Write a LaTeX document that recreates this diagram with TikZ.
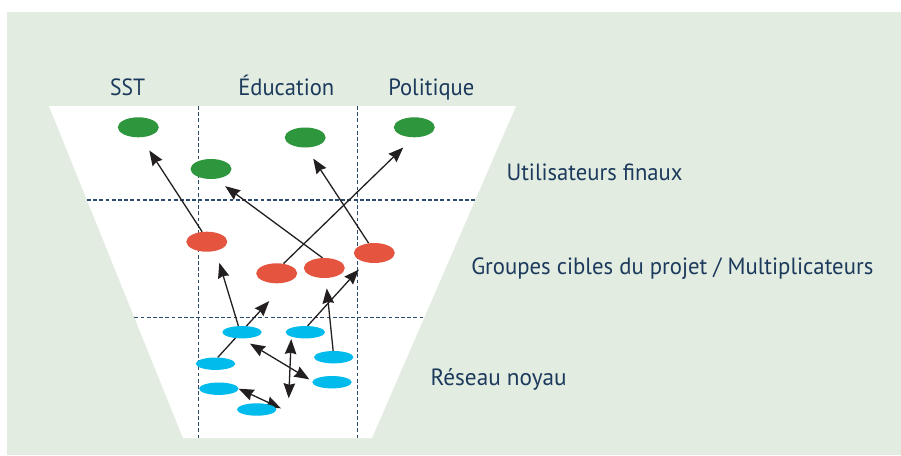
\documentclass[tikz,border=0pt]{standalone}
\usepackage{fontspec}
\setmainfont{PT Sans}
\usetikzlibrary{shapes.geometric,arrows.meta}
\pgfdeclarelayer{bg}
\pgfsetlayers{bg,main}
\definecolor{bgc}{RGB}{226,236,225}
\definecolor{gr}{RGB}{46,150,61}
\definecolor{rd}{RGB}{228,84,62}
\definecolor{bl}{RGB}{0,187,236}
\definecolor{txt}{RGB}{28,58,92}
\definecolor{dsh}{RGB}{45,75,108}
\definecolor{ink}{RGB}{35,31,32}
\newcommand\fitw[2]{\resizebox{#1pt}{\height}{#2}}
\begin{document}
\begin{tikzpicture}[
  bigell/.style={ellipse,minimum width=41pt,minimum height=20pt,inner sep=0pt,draw=none},
  ge/.style={bigell,fill=gr},
  re/.style={bigell,fill=rd},
  be/.style={ellipse,minimum width=39.4pt,minimum height=12.4pt,inner sep=0pt,draw=none,fill=bl},
  lbl/.style={anchor=base,inner sep=0pt,text=txt,font=\fontsize{23.5}{28}\selectfont},
  guide/.style={draw=dsh,line width=1.2pt,dash pattern=on 3.8pt off 2.4pt},
  arr/.style={draw=ink,line width=1.3pt,-{Stealth[length=15pt,width=11.5pt,inset=1.5pt]}},
  darr/.style={draw=ink,line width=1.3pt,{Stealth[length=15pt,width=11.5pt,inset=1.5pt]}-{Stealth[length=15pt,width=11.5pt,inset=1.5pt]}}
]
\begin{scope}[x=1pt,y=-1pt]
\useasboundingbox (0,0) rectangle (901,455);
\begin{pgfonlayer}{bg}
  \fill[white] (0,0) rectangle (901,455);
  \fill[bgc] (7,12) rectangle (901,455);
  \fill[white] (49,106) -- (516,106) -- (372,438) -- (183,438) -- cycle;
  \draw[guide] (198.3,106) -- (198.3,438);
  \draw[guide] (357.2,106) -- (357.2,438);
  \draw[guide] (86.9,200) -- (475.2,200);
  \draw[guide] (134.3,317.3) -- (424.4,317.3);
\end{pgfonlayer}

% labels
\node[lbl] (tSST) at (127.7,95.7) {\fitw{35}{SST}};
\node[lbl] (tEdu) at (286.3,95.7) {\fitw{96}{Éducation}};
\node[lbl] (tPol) at (431.3,95.7) {\fitw{86}{Politique}};
\node[lbl] (tUti) at (594.5,180) {\fitw{176}{Utilisateurs finaux}};
\node[lbl] (tGrp) at (672.3,274.7) {\fitw{402}{Groupes cibles du projet / Multiplicateurs}};
\node[lbl] (tRes) at (498.7,385) {\fitw{136}{Réseau noyau}};

% end users
\node[ge] (G1) at (138.3,127.3) {};
\node[ge] (G2) at (211,169) {};
\node[ge] (G3) at (305.2,137.5) {};
\node[ge] (G4) at (414.3,127.3) {};
% target groups
\node[re] (R1) at (206.8,241.7) {};
\node[re] (R2) at (276.7,273.3) {};
\node[re] (R3) at (324.3,268) {};
\node[re] (R4) at (374.3,253) {};
% core network
\node[be] (B1) at (242,332.2) {};
\node[be] (B2) at (305.3,332.2) {};
\node[be] (B3) at (333.7,357.2) {};
\node[be] (B4) at (215.5,363.7) {};
\node[be] (B5) at (218.8,388.7) {};
\node[be] (B6) at (332,382.2) {};
\node[be] (B7) at (256.7,409.5) {};
\coordinate (c10) at (288.7,398.3);

\begin{pgfonlayer}{bg}
  \draw[arr,shorten >=15.5pt] (R1.115) -- (G1.-76);
  \draw[arr,shorten >=12.1pt] (R3.100) -- (G2.-66.5);
  \draw[arr,shorten >=14.4pt] (R2.55) -- (G4.-94);
  \draw[arr,shorten >=13pt] (R4.120) -- (G3.-85);
  \draw[arr,shorten >=12.5pt] (B1.120) -- (R1.-46);
  \draw[arr,shorten >=25.4pt] (B4.70) -- (R2.-43);
  \draw[arr,shorten >=9.8pt] (B2.70) -- (R4.-134);
  \draw[arr,shorten >=10.3pt] (B3.95) -- (R3.-82);
  \draw[darr,shorten <=9.7pt,shorten >=3.5pt] (B1.-93) -- (B6.177);
  \draw[darr,shorten >=2.3pt] (c10) -- (B2.-162);
  \draw[darr] (B5.east) -- ([xshift=4.3pt,yshift=1.2pt]B7.east);
\end{pgfonlayer}
\end{scope}
\end{tikzpicture}
\end{document}
